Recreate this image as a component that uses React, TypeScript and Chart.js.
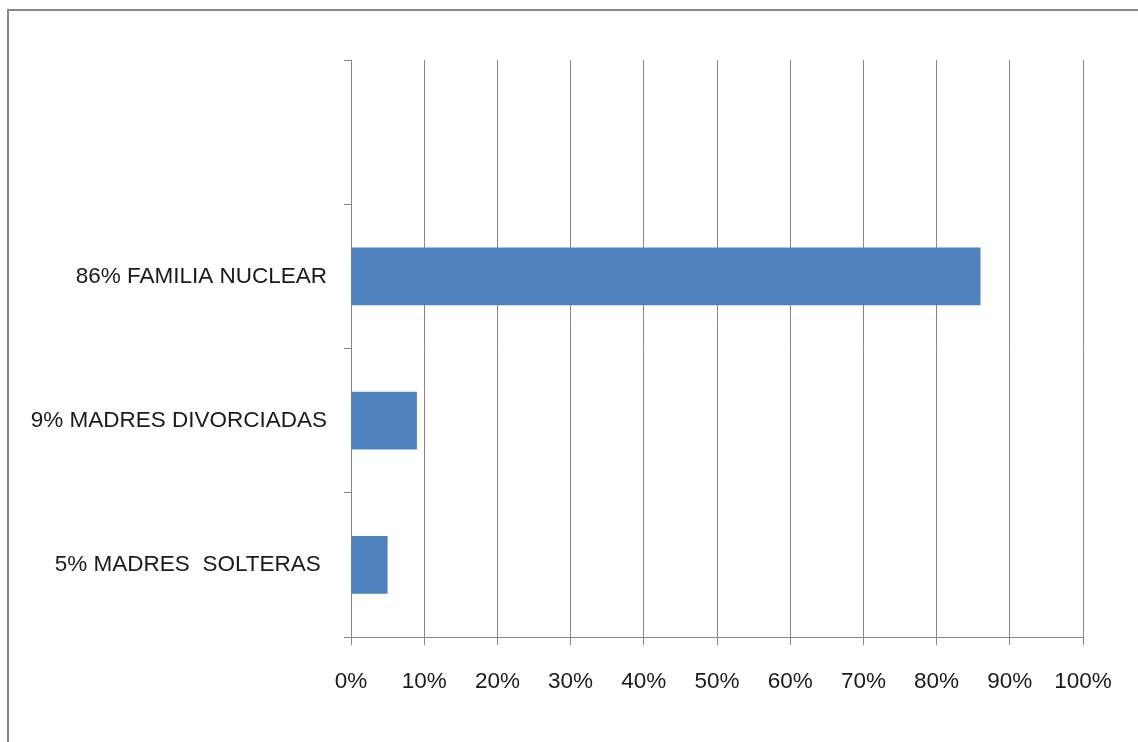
import React, { useEffect, useRef } from "react";
import { Chart, registerables } from "chart.js";

Chart.register(...registerables);

const categories = ["", "86% FAMILIA NUCLEAR", "9% MADRES DIVORCIADAS", "5% MADRES  SOLTERAS "];
const values = [null, 86, 9, 5];
const xTicks = [0, 10, 20, 30, 40, 50, 60, 70, 80, 90, 100];

export default function App() {
  const ref = useRef<HTMLCanvasElement | null>(null);
  useEffect(() => {
    if (!ref.current) return;
    const grey = "#878787";
    const font = { family: "'Liberation Sans', Arial, sans-serif", size: 22.5 };
    const chart = new Chart(ref.current, {
      type: "bar",
      data: {
        labels: categories,
        datasets: [
          {
            data: values as any,
            backgroundColor: "#4F81BD",
            borderWidth: 0,
            categoryPercentage: 1,
            barPercentage: 0.4,
          },
        ],
      },
      options: {
        indexAxis: "y",
        animation: false,
        responsive: false,
        layout: { padding: { top: 60, right: 55, left: 0, bottom: 0 } },
        plugins: { legend: { display: false }, tooltip: { enabled: false } },
        scales: {
          x: {
            min: 0,
            max: 100,
            afterBuildTicks: (s: any) => {
              s.ticks = xTicks.map((v) => ({ value: v }));
            },
            afterFit: (s: any) => {
              s.height = 105;
            },
            ticks: {
              callback: (v: any) => v + "%",
              color: "#1a1a1a",
              font,
              padding: 23,
              maxRotation: 0,
            },
            grid: { color: grey, lineWidth: 1, tickLength: 8, drawTicks: true },
            border: { display: true, color: grey, width: 1 },
          },
          y: {
            afterFit: (s: any) => {
              s.width = 351;
            },
            ticks: { color: "#1a1a1a", font, padding: 17 },
            grid: {
              offset: true,
              drawOnChartArea: false,
              color: grey,
              tickLength: 7,
            },
            border: { display: true, color: grey, width: 1 },
          },
        },
      },
    });
    return () => chart.destroy();
  }, []);
  return (
    <div style={{ position: "fixed", left: 0, top: 0, width: 1138, height: 742, background: "#fff" }}>
      <div
        style={{
          position: "absolute",
          left: 7,
          top: 9,
          right: -10,
          bottom: -10,
          borderTop: "2px solid #878787",
          borderLeft: "2px solid #878787",
        }}
      />
      <canvas ref={ref} width={1138} height={742} style={{ position: "absolute", left: 0, top: 0 }} />
    </div>
  );
}
